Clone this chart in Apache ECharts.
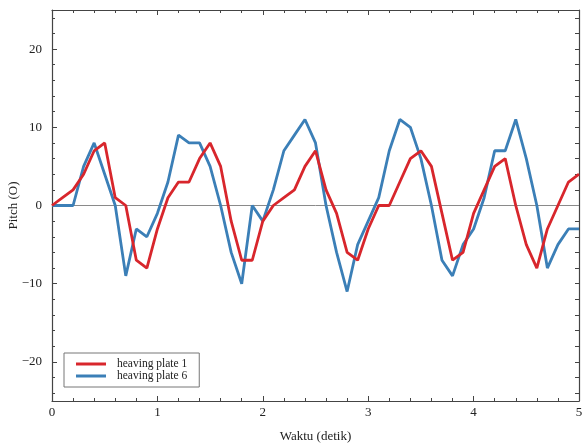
<!DOCTYPE html>
<html>
<head>
<meta charset="utf-8">
<script src="https://cdn.jsdelivr.net/npm/echarts@6/dist/echarts.min.js"></script>
<style>html,body{margin:0;padding:0;background:#fff;}#c{width:583px;height:446px;}</style>
</head>
<body>
<div id="c"></div>
<script>
var time = [0,0.1,0.2,0.3,0.4,0.5,0.6,0.7,0.8,0.9,1.0,1.1,1.2,1.3,1.4,1.5,1.6,1.7,1.8,1.9,2.0,2.1,2.2,2.3,2.4,2.5,2.6,2.7,2.8,2.9,3.0,3.1,3.2,3.3,3.4,3.5,3.6,3.7,3.8,3.9,4.0,4.1,4.2,4.3,4.4,4.5,4.6,4.7,4.8,4.9,5.0];
var plate1 = [0,1,2,4,7,8,1,0,-7,-8,-3,1,3,3,6,8,5,-2,-7,-7,-2,0,1,2,5,7,2,-1,-6,-7,-3,0,0,3,6,7,5,-1,-7,-6,-1,2,5,6,0,-5,-8,-3,0,3,4];
var plate6 = [0,0,0,5,8,4,0,-9,-3,-4,-1,3,9,8,8,5,0,-6,-10,0,-2,2,7,9,11,8,0,-6,-11,-5,-2,1,7,11,10,6,0,-7,-9,-5,-3,1,7,7,11,6,0,-8,-5,-3,-3];
var seriesNames = ['heaving plate 1','heaving plate 6'];
var yMajorTicks = [-20,-10,0,10,20];
var yMinorTicks = [-24,-22,-20,-18,-16,-14,-12,-10,-8,-6,-4,-2,0,2,4,6,8,10,12,14,16,18,20,22,24];
var xRange = [0,5];
var yRange = [-25,25];

function pairs(vals){ return time.map(function(t,i){ return [t, vals[i]]; }); }

var FONT = 'Liberation Serif';
var AX = '#444';
var chart = echarts.init(document.getElementById('c'), null, {renderer:'canvas'});

var baseY = {
  type:'value', min:yRange[0], max:yRange[1], splitLine:{show:false}
};
chart.setOption({
  animation:false,
  backgroundColor:'#fff',
  grid:{left:52, right:4, top:10, bottom:45, containLabel:false, outerBoundsMode:'none'},
  legend:{
    orient:'vertical', left:64, top:353,
    data:seriesNames,
    icon:'rect', itemWidth:30, itemHeight:3, itemGap:0,
    borderColor:'#777', borderWidth:1, borderRadius:0,
    padding:[5,12,5,12],
    textStyle:{fontFamily:FONT, fontSize:11.5, color:'#222', lineHeight:12, padding:[0,0,0,6]}
  },
  xAxis:[
    {type:'value', min:xRange[0], max:xRange[1], interval:1, position:'bottom',
     name:'Waktu (detik)', nameLocation:'middle', nameGap:29,
     nameTextStyle:{fontFamily:FONT, fontSize:13, color:'#222'},
     axisLine:{show:true, onZero:false, lineStyle:{color:AX, width:1.2}},
     axisTick:{show:true, inside:true, length:5, lineStyle:{color:AX}},
     minorTick:{show:true, splitNumber:5, length:3, lineStyle:{color:AX}},
     axisLabel:{fontFamily:FONT, fontSize:13, color:'#222', margin:5},
     splitLine:{show:false}},
    {type:'value', min:xRange[0], max:xRange[1], interval:1, position:'top',
     axisLine:{show:true, onZero:false, lineStyle:{color:AX, width:1.2}},
     axisTick:{show:true, inside:true, length:5, lineStyle:{color:AX}},
     minorTick:{show:true, splitNumber:5, length:3, lineStyle:{color:AX}},
     axisLabel:{show:false}, splitLine:{show:false}}
  ],
  yAxis:[
    Object.assign({}, baseY, {position:'left',
     name:'Pitch (O)', nameLocation:'middle', nameGap:32, nameMoveOverlap:false,
     nameTextStyle:{fontFamily:FONT, fontSize:13, color:'#222'},
     axisLine:{show:true, onZero:false, lineStyle:{color:AX, width:1.2}},
     axisTick:{show:true, inside:true, length:5, customValues:yMajorTicks, lineStyle:{color:AX}},
     axisLabel:{fontFamily:FONT, fontSize:13, color:'#222', margin:10, customValues:yMajorTicks,
       formatter:function(v){ return v<0 ? '\u2212'+Math.abs(v) : String(v); }}}),
    Object.assign({}, baseY, {position:'left', offset:0,
     axisLine:{show:false},
     axisTick:{show:true, inside:true, length:3, customValues:yMinorTicks, lineStyle:{color:AX}},
     axisLabel:{show:false}}),
    Object.assign({}, baseY, {position:'right',
     axisLine:{show:true, onZero:false, lineStyle:{color:AX, width:1.2}},
     axisTick:{show:true, inside:true, length:4, customValues:yMinorTicks, lineStyle:{color:AX}},
     axisLabel:{show:false}})
  ],
  series:[
    {name:seriesNames[0], type:'line', xAxisIndex:0, yAxisIndex:0, data:pairs(plate1),
     showSymbol:false, symbol:'none', color:'#d8262c',
     lineStyle:{color:'#d8262c', width:2.8}, itemStyle:{color:'#d8262c'}, z:3,
     markLine:{silent:true, symbol:'none', label:{show:false},
       lineStyle:{color:'#8a8a8a', width:1, type:'solid'}, data:[{yAxis:0}], z:1}},
    {name:seriesNames[1], type:'line', xAxisIndex:0, yAxisIndex:0, data:pairs(plate6),
     showSymbol:false, symbol:'none', color:'#3b7fb7',
     lineStyle:{color:'#3b7fb7', width:2.8}, itemStyle:{color:'#3b7fb7'}, z:2}
  ]
});
</script>
</body>
</html>
